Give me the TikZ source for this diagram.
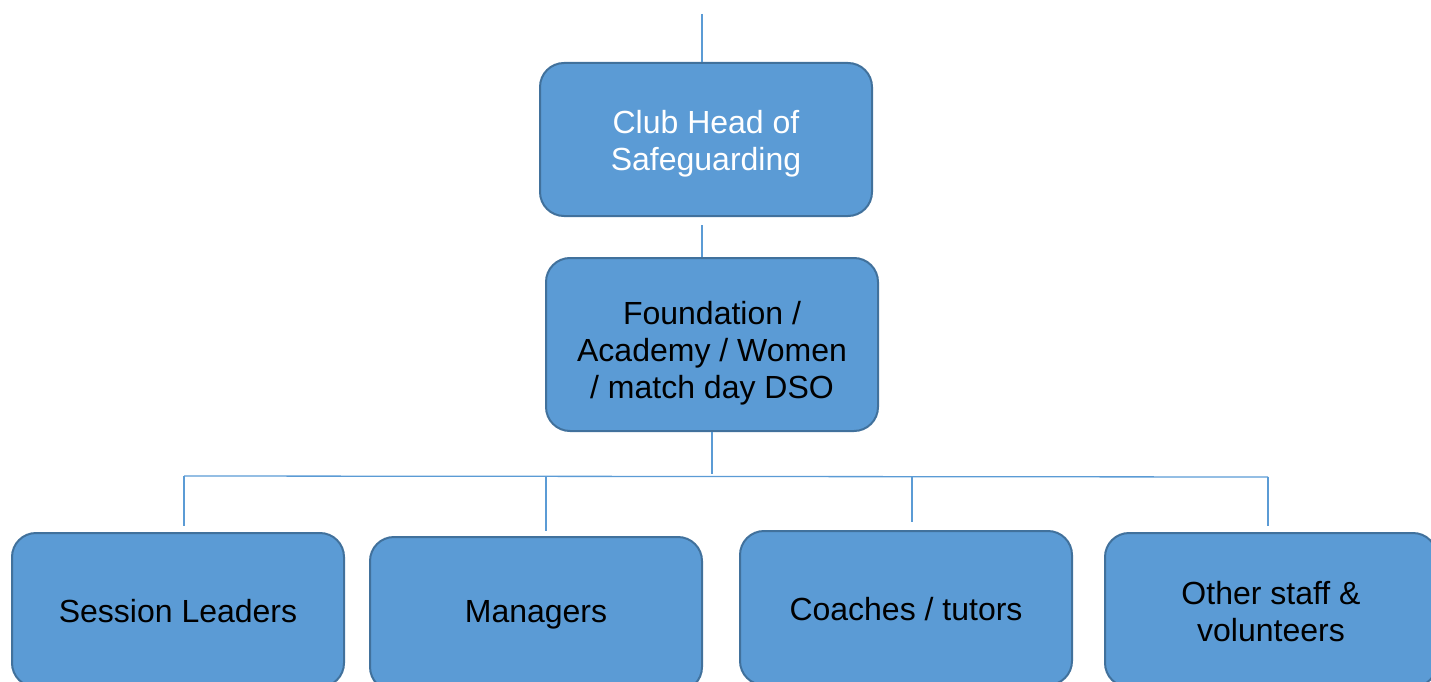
\documentclass[tikz,border=0pt]{standalone}
\usepackage{fontspec}
\setmainfont{Liberation Sans}
\definecolor{boxfill}{HTML}{5B9BD5}
\definecolor{boxedge}{HTML}{41719C}
\definecolor{linec}{HTML}{5B9BD5}
\begin{document}
\begin{tikzpicture}[x=1pt,y=-1pt,
  orgbox/.style={draw=boxedge, line width=2pt, fill=boxfill, rounded corners=24pt,
    minimum width=332pt, inner sep=0pt},
  boxtext/.style={align=center, inner sep=0pt, font=\fontsize{32}{37}\selectfont},
  conn/.style={draw=linec, line width=1.3pt}]
\useasboundingbox (0,0) rectangle (1431,682);
\clip (0,0) rectangle (1431,682);
% boxes
\node[orgbox, minimum height=153pt] (head) at (706,139.5) {};
\node[orgbox, minimum height=173pt] (dso) at (712,344.5) {};
\node[orgbox, minimum height=154pt] (sl) at (178,610) {};
\node[orgbox, minimum height=154pt] (mg) at (536,614) {};
\node[orgbox, minimum height=154pt] (ct) at (906,608) {};
\node[orgbox, minimum height=154pt] (os) at (1271,610) {};
% texts
\node[boxtext, text=white] (headtxt) at ([yshift=-4pt]head.center) {Club Head of\\Safeguarding};
\node[boxtext] (dsotxt) at ([yshift=-9pt]dso.center) {Foundation /\\Academy / Women\\/ match day DSO};
\node[boxtext] (sltxt) at ([yshift=-1pt]sl.center) {Session Leaders};
\node[boxtext] (mgtxt) at ([yshift=-1pt]mg.center) {Managers};
\node[boxtext] (cttxt) at ([yshift=-1pt]ct.center) {Coaches / tutors};
\node[boxtext] (ostxt) at ([yshift=-1.5pt]os.center) {Other staff \&\\volunteers};
% free ends
\coordinate (top) at (702,14);
\coordinate (h1) at (702,225);
\coordinate (d1) at (712,474);
\coordinate (busL) at (184,476);
\coordinate (busR) at (1268,477);
\coordinate (e1) at (184,526);
\coordinate (e2) at (546,531);
\coordinate (e3) at (912,522);
\coordinate (e4) at (1268,526);
% connectors
\draw[conn] (top) -- (top |- head.north);
\draw[conn] (h1) -- (h1 |- dso.north);
\draw[conn] (d1 |- dso.south) -- (d1);
\draw[conn] (busL) -- (busR);
\draw[conn] (e1 |- busL) -- (e1);
\draw[conn] (e2 |- busL) -- (e2);
\draw[conn] (e3 |- busL) -- (e3);
\draw[conn] (e4 |- busR) -- (e4);
\end{tikzpicture}
\end{document}
